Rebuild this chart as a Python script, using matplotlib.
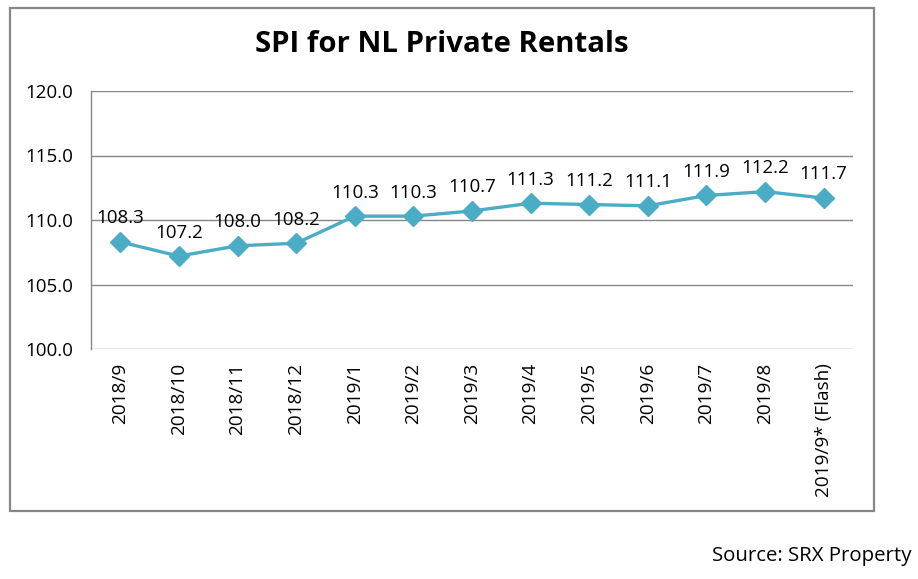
import numpy as np
import matplotlib
matplotlib.use("Agg")
from matplotlib import pyplot as plt
from matplotlib.patches import Rectangle

# data
months = ["2018/9", "2018/10", "2018/11", "2018/12", "2019/1", "2019/2", "2019/3",
          "2019/4", "2019/5", "2019/6", "2019/7", "2019/8", "2019/9* (Flash)"]
spi = [108.3, 107.2, 108.0, 108.2, 110.3, 110.3, 110.7,
       111.3, 111.2, 111.1, 111.9, 112.2, 111.7]
yticks = [100.0, 105.0, 110.0, 115.0, 120.0]

plt.rcParams["font.family"] = ["Open Sans", "DejaVu Sans"]

W, H = 918, 579
fig = plt.figure(figsize=(W / 100, H / 100), dpi=100)
fig.patch.set_facecolor("white")

# outer chart frame
fig.patches.append(Rectangle((10 / W, 1 - 511 / H), (874 - 10) / W, (511 - 8) / H,
                             transform=fig.transFigure, fill=False,
                             edgecolor="#878787", linewidth=1.6))

ax = fig.add_axes([91 / W, 1 - 349 / H, (853 - 91) / W, (349 - 91) / H])
x = np.arange(len(months))
ax.plot(x, spi, color="#4BACC6", linewidth=2.4, marker="D", markersize=10.5,
        markerfacecolor="#4BACC6", markeredgecolor="#4BACC6", zorder=3)

for xi, v in zip(x, spi):
    ax.annotate(f"{v:.1f}", (xi, v), xytext=(0, 10.5), textcoords="offset points",
                ha="center", va="bottom", fontsize=13.5, color="black")

ax.set_xlim(-0.5, len(months) - 0.5)
ax.set_ylim(100, 120)
ax.set_yticks(yticks)
ax.set_yticklabels([f"{t:.1f}" for t in yticks], fontsize=13.5)
ax.set_xticks(x)
ax.set_xticklabels(months, rotation=90, fontsize=13.7)
ax.tick_params(axis="y", length=0, pad=13)
ax.tick_params(axis="x", length=0, pad=10)
ax.grid(axis="y", color="#868686", linewidth=1)
ax.set_axisbelow(True)
for side in ["top", "right", "bottom"]:
    ax.spines[side].set_visible(False)
ax.spines["left"].set_color("#868686")
ax.spines["left"].set_linewidth(1)

fig.text(442 / W, 1 - 45 / H, "SPI for NL Private Rentals", ha="center", va="center",
         fontsize=21.2, fontweight="bold")
fig.text(912 / W, 1 - 556 / H, "Source: SRX Property", ha="right", va="center",
         fontsize=14.7)

fig.savefig("out.png", dpi=100, facecolor="white")
